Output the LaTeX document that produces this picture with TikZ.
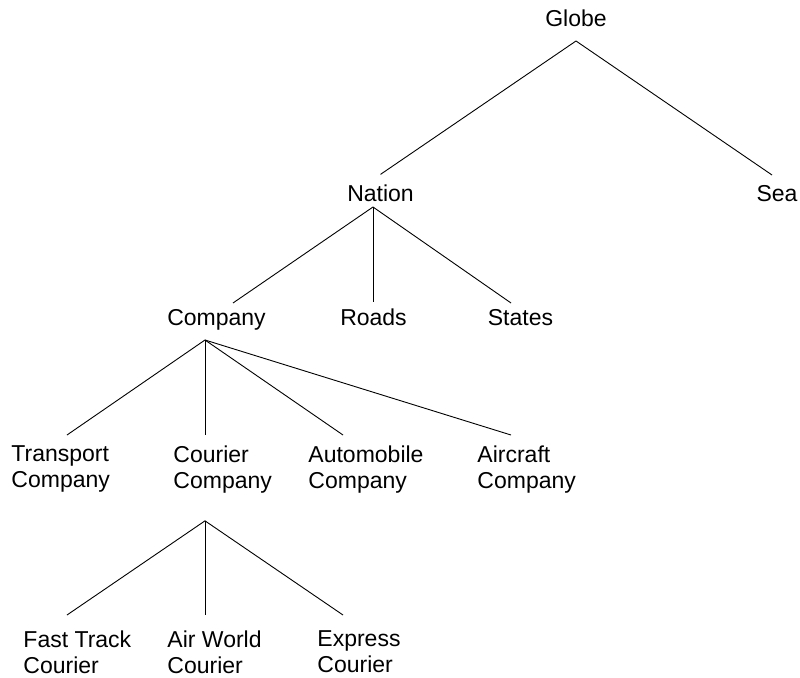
\documentclass[tikz,border=0pt]{standalone}
\usepackage{fontspec}
\setmainfont{Liberation Sans}
\begin{document}
\begin{tikzpicture}[x=1pt, y=-1pt, line width=0.9pt,
  txt/.style={inner sep=0pt, font=\fontsize{23}{26}\selectfont},
  twoline/.style={txt, align=left, anchor=north west}]
\useasboundingbox (0,0) rectangle (800,677);
% Globe, Nation, Sea
\node[txt, anchor=base] (globe) at (576,27) {Globe};
\node[txt, anchor=base] (nation) at (380.5,201) {Nation};
\node[txt, anchor=base] (sea) at (777,201) {Sea};
% Company, Roads, States
\node[txt, anchor=base] (company) at (216.5,325) {Company};
\node[txt, anchor=base] (roads) at (373.5,325) {Roads};
\node[txt, anchor=base] (states) at (520.5,325) {States};
% Tipos de compañía
\node[twoline] (transportco) at (11,445.5) {Transport\\Company};
\node[twoline] (courierco) at (173,445.5) {Courier\\Company};
\node[twoline] (autoco) at (308,445.5) {Automobile\\Company};
\node[twoline] (aircraftco) at (477,445.5) {Aircraft\\Company};
% Couriers
\node[twoline] (fasttrack) at (23,630) {Fast Track\\Courier};
\node[twoline] (airworld) at (167,630) {Air World\\Courier};
\node[twoline] (express) at (317,630) {Express\\Courier};
% Puntos de ramificación
\coordinate (globe-fork) at ([yshift=-14pt]globe.base);
\coordinate (nation-fork) at ([xshift=-7.5pt,yshift=-6pt]nation.base);
\coordinate (company-fork) at ([xshift=-11.5pt,yshift=-15pt]company.base);
\coordinate (courier-fork) at ([xshift=32pt,yshift=-27pt]courierco.south west);
% Ramas
\draw (globe-fork) -- ([yshift=9.5pt]nation.north);
\draw (globe-fork) -- ([xshift=-5pt,yshift=9.5pt]sea.north);
\draw (nation-fork) -- ([xshift=16.5pt,yshift=5.5pt]company.north);
\draw (nation-fork) -- ([xshift=-0.5pt,yshift=5.5pt]roads.north);
\draw (nation-fork) -- ([xshift=-9.5pt,yshift=5.5pt]states.north);
\draw (company-fork) -- ([xshift=56pt,yshift=10.5pt]transportco.north west);
\draw (company-fork) -- ([xshift=32pt,yshift=10.5pt]courierco.north west);
\draw (company-fork) -- ([xshift=35pt,yshift=10.5pt]autoco.north west);
\draw (company-fork) -- ([xshift=34pt,yshift=10.5pt]aircraftco.north west);
\draw (courier-fork) -- ([xshift=44pt,yshift=15pt]fasttrack.north west);
\draw (courier-fork) -- ([xshift=38pt,yshift=15pt]airworld.north west);
\draw (courier-fork) -- ([xshift=26pt,yshift=15pt]express.north west);
\end{tikzpicture}
\end{document}
